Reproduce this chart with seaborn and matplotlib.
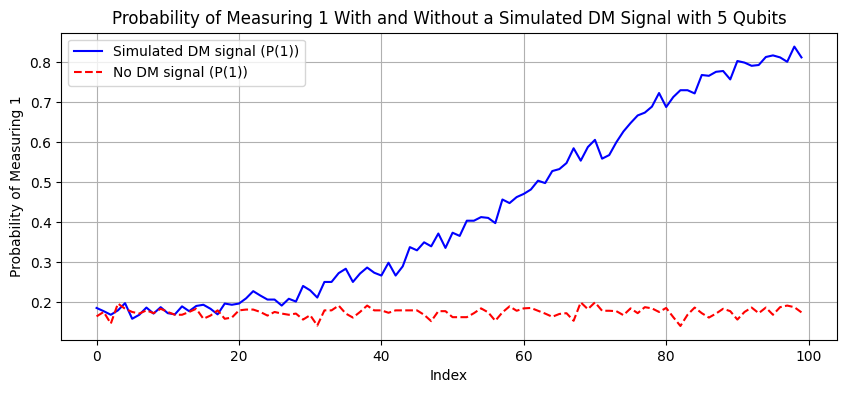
import numpy as np
import pandas as pd
import matplotlib
matplotlib.use("Agg")
import matplotlib.pyplot as plt
import seaborn as sns

# %%

dm_signal = [
    0.186, 0.178, 0.169, 0.180, 0.198, 0.159, 0.169, 0.187, 0.172, 0.188,
    0.173, 0.170, 0.190, 0.178, 0.191, 0.194, 0.184, 0.170, 0.197, 0.194,
    0.197, 0.210, 0.228, 0.217, 0.207, 0.207, 0.192, 0.209, 0.202, 0.241,
    0.230, 0.212, 0.251, 0.251, 0.273, 0.284, 0.251, 0.272, 0.287, 0.274,
    0.267, 0.299, 0.267, 0.290, 0.338, 0.330, 0.350, 0.340, 0.372, 0.336,
    0.374, 0.366, 0.404, 0.404, 0.413, 0.411, 0.398, 0.457, 0.448, 0.463,
    0.471, 0.482, 0.504, 0.498, 0.528, 0.533, 0.548, 0.585, 0.554, 0.588,
    0.606, 0.559, 0.568, 0.600, 0.627, 0.648, 0.667, 0.674, 0.689, 0.723,
    0.688, 0.713, 0.730, 0.730, 0.722, 0.768, 0.766, 0.776, 0.778, 0.757,
    0.803, 0.799, 0.791, 0.793, 0.813, 0.817, 0.812, 0.801, 0.839, 0.812,
]

no_signal = [
    0.165, 0.176, 0.147, 0.197, 0.184, 0.176, 0.172, 0.180, 0.173, 0.184,
    0.176, 0.169, 0.169, 0.176, 0.184, 0.159, 0.167, 0.180, 0.159, 0.162,
    0.180, 0.182, 0.182, 0.176, 0.167, 0.176, 0.172, 0.169, 0.172, 0.157,
    0.168, 0.142, 0.180, 0.180, 0.192, 0.172, 0.162, 0.176, 0.192, 0.180,
    0.180, 0.174, 0.180, 0.180, 0.180, 0.180, 0.169, 0.153, 0.178, 0.178,
    0.163, 0.163, 0.163, 0.173, 0.185, 0.175, 0.154, 0.175, 0.190, 0.179,
    0.185, 0.186, 0.179, 0.172, 0.164, 0.171, 0.173, 0.154, 0.200, 0.183,
    0.200, 0.179, 0.179, 0.178, 0.168, 0.185, 0.173, 0.188, 0.185, 0.176,
    0.186, 0.163, 0.141, 0.169, 0.187, 0.173, 0.162, 0.172, 0.184, 0.178,
    0.157, 0.176, 0.187, 0.173, 0.187, 0.169, 0.188, 0.192, 0.188, 0.175,
]

index = np.arange(len(dm_signal))

df = pd.DataFrame({"Index": index, "dm": dm_signal, "nodm": no_signal})

# %%

fig = plt.figure(figsize=(8.46, 3.93), dpi=100)
ax = sns.lineplot(df, x="Index", y="dm", color="blue", label="Simulated DM signal (P(1))")
sns.lineplot(df, x="Index", y="nodm", color="red", linestyle="--", label="No DM signal (P(1))", ax=ax)
plt.xlabel("Index")
plt.ylabel("Probability of Measuring 1")
plt.title("Probability of Measuring 1 With and Without a Simulated DM Signal with 5 Qubits")
plt.legend(loc="upper left")
plt.grid(True)
plt.subplots_adjust(left=0.0725, right=0.989, top=0.917, bottom=0.135)
plt.savefig("out.png", dpi=100)
